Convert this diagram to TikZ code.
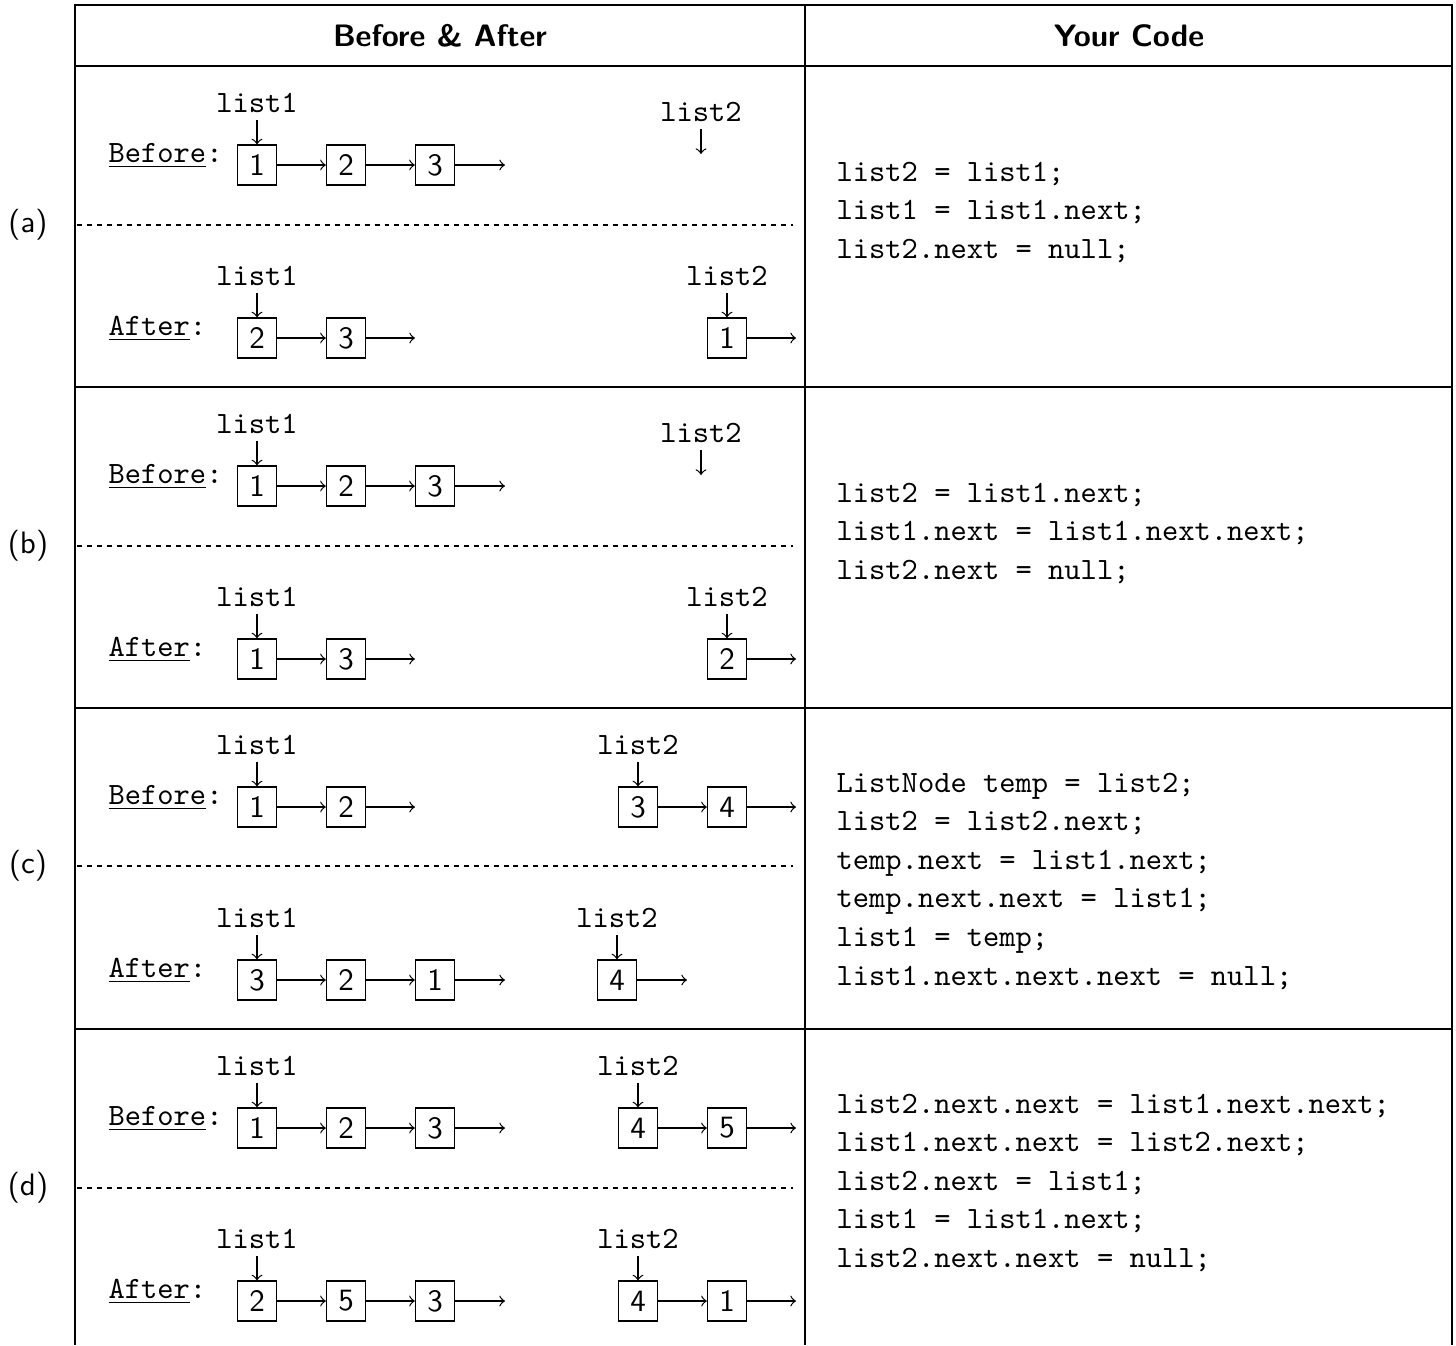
\documentclass[tikz,border=0pt]{standalone}
\usepackage{fontspec}
\begin{document}
\begin{tikzpicture}[x=0.3226pt,y=-0.3226pt,
  box/.style={draw,line width=0.4pt,minimum width=12.6pt,minimum height=12.9pt,inner sep=0pt,font=\sffamily},
  ptr/.style={font=\ttfamily,anchor=base,inner sep=0pt},
  lbl/.style={font=\ttfamily,anchor=base west,inner sep=0pt},
  code/.style={font=\ttfamily,anchor=base west,inner sep=0pt},
  lnk/.style={->,line width=0.4pt},
  rowlbl/.style={font=\sffamily,inner sep=0pt},
  head/.style={font=\sffamily\bfseries,inner sep=0pt},
  rulel/.style={line width=0.45pt},
  sep/.style={line width=0.65pt,dash pattern=on 1.6pt off 1.6pt}]
\useasboundingbox (0,0) rectangle (1456,1345);
% table frame
\coordinate (TL) at (75,5); \coordinate (TM) at (805,5); \coordinate (TR) at (1452,5);
\coordinate (BL) at (75,1345); \coordinate (BM) at (805,1345); \coordinate (BR) at (1452,1345);
\draw[rulel] (BL) -- (TL) -- (TR) -- (BR);
\draw[rulel] (TM) -- (BM);
\foreach \yy in {66,387,708,1029}{\draw[rulel] (75,\yy) -- (1452,\yy);}
\foreach \yy in {225,546,866,1188}{\draw[sep] (77,\yy) -- (793,\yy);}
\node[head] (h1) at (440,36) {Before \& After};
\node[head] (h2) at (1129,36) {Your Code};
\node[rowlbl] (ra) at (28,225) {(a)};
\node[rowlbl] (rb) at (28,546) {(b)};
\node[rowlbl] (rc) at (28,866) {(c)};
\node[rowlbl] (rd) at (28,1188) {(d)};

% ---------- row (a)
\begin{scope}[shift={(0,66)}]
\node[lbl] (aBl) at (108,96) {\underline{Before}:};
\node[ptr] (aBp1) at (257,46) {list1};
\node[box] (aB1) at (257,99) {1};
\node[box] (aB2) at (346,99) {2};
\node[box] (aB3) at (435,99) {3};
\coordinate (aBe) at (505,99);
\draw[lnk] ([yshift=-2.6pt]aBp1.base) -- (aB1.north);
\draw[lnk] (aB1) -- (aB2); \draw[lnk] (aB2) -- (aB3); \draw[lnk] (aB3) -- (aBe);
\node[ptr] (aBp2) at (701,55) {list2};
\coordinate (aBq) at (701,88);
\draw[lnk] ([yshift=-2.6pt]aBp2.base) -- (aBq);
\node[lbl] (aAl) at (108,269) {\underline{After}:};
\node[ptr] (aAp1) at (257,219) {list1};
\node[box] (aA1) at (257,272) {2};
\node[box] (aA2) at (346,272) {3};
\coordinate (aAe) at (415,272);
\draw[lnk] ([yshift=-2.6pt]aAp1.base) -- (aA1.north);
\draw[lnk] (aA1) -- (aA2); \draw[lnk] (aA2) -- (aAe);
\node[ptr] (aAp2) at (727,219) {list2};
\node[box] (aA3) at (727,272) {1};
\coordinate (aAf) at (796,272);
\draw[lnk] ([yshift=-2.6pt]aAp2.base) -- (aA3.north);
\draw[lnk] (aA3) -- (aAf);
\node[code] (ac1) at (836,115) {list2 = list1;};
\node[code] (ac2) at (836,153.6) {list1 = list1.next;};
\node[code] (ac3) at (836,192.2) {list2.next = null;};
\end{scope}

% ---------- row (b)
\begin{scope}[shift={(0,387)}]
\node[lbl] (bBl) at (108,96) {\underline{Before}:};
\node[ptr] (bBp1) at (257,46) {list1};
\node[box] (bB1) at (257,99) {1};
\node[box] (bB2) at (346,99) {2};
\node[box] (bB3) at (435,99) {3};
\coordinate (bBe) at (505,99);
\draw[lnk] ([yshift=-2.6pt]bBp1.base) -- (bB1.north);
\draw[lnk] (bB1) -- (bB2); \draw[lnk] (bB2) -- (bB3); \draw[lnk] (bB3) -- (bBe);
\node[ptr] (bBp2) at (701,55) {list2};
\coordinate (bBq) at (701,88);
\draw[lnk] ([yshift=-2.6pt]bBp2.base) -- (bBq);
\node[lbl] (bAl) at (108,269) {\underline{After}:};
\node[ptr] (bAp1) at (257,219) {list1};
\node[box] (bA1) at (257,272) {1};
\node[box] (bA2) at (346,272) {3};
\coordinate (bAe) at (415,272);
\draw[lnk] ([yshift=-2.6pt]bAp1.base) -- (bA1.north);
\draw[lnk] (bA1) -- (bA2); \draw[lnk] (bA2) -- (bAe);
\node[ptr] (bAp2) at (727,219) {list2};
\node[box] (bA3) at (727,272) {2};
\coordinate (bAf) at (796,272);
\draw[lnk] ([yshift=-2.6pt]bAp2.base) -- (bA3.north);
\draw[lnk] (bA3) -- (bAf);
\node[code] (bc1) at (836,115) {list2 = list1.next;};
\node[code] (bc2) at (836,153.6) {list1.next = list1.next.next;};
\node[code] (bc3) at (836,192.2) {list2.next = null;};
\end{scope}

% ---------- row (c)
\begin{scope}[shift={(0,708)}]
\node[lbl] (cBl) at (108,96) {\underline{Before}:};
\node[ptr] (cBp1) at (257,46) {list1};
\node[box] (cB1) at (257,99) {1};
\node[box] (cB2) at (346,99) {2};
\coordinate (cBe) at (415,99);
\draw[lnk] ([yshift=-2.6pt]cBp1.base) -- (cB1.north);
\draw[lnk] (cB1) -- (cB2); \draw[lnk] (cB2) -- (cBe);
\node[ptr] (cBp2) at (638,46) {list2};
\node[box] (cB3) at (638,99) {3};
\node[box] (cB4) at (727,99) {4};
\coordinate (cBf) at (796,99);
\draw[lnk] ([yshift=-2.6pt]cBp2.base) -- (cB3.north);
\draw[lnk] (cB3) -- (cB4); \draw[lnk] (cB4) -- (cBf);
\node[lbl] (cAl) at (108,269) {\underline{After}:};
\node[ptr] (cAp1) at (257,219) {list1};
\node[box] (cA1) at (257,272) {3};
\node[box] (cA2) at (346,272) {2};
\node[box] (cA3) at (435,272) {1};
\coordinate (cAe) at (505,272);
\draw[lnk] ([yshift=-2.6pt]cAp1.base) -- (cA1.north);
\draw[lnk] (cA1) -- (cA2); \draw[lnk] (cA2) -- (cA3); \draw[lnk] (cA3) -- (cAe);
\node[ptr] (cAp2) at (617,219) {list2};
\node[box] (cA4) at (617,272) {4};
\coordinate (cAf) at (687,272);
\draw[lnk] ([yshift=-2.6pt]cAp2.base) -- (cA4.north);
\draw[lnk] (cA4) -- (cAf);
\node[code] (cc1) at (836,84) {ListNode temp = list2;};
\node[code] (cc2) at (836,122.6) {list2 = list2.next;};
\node[code] (cc3) at (836,161.2) {temp.next = list1.next;};
\node[code] (cc4) at (836,199.8) {temp.next.next = list1;};
\node[code] (cc5) at (836,238.4) {list1 = temp;};
\node[code] (cc6) at (836,277) {list1.next.next.next = null;};
\end{scope}

% ---------- row (d)
\begin{scope}[shift={(0,1029)}]
\node[lbl] (dBl) at (108,96) {\underline{Before}:};
\node[ptr] (dBp1) at (257,46) {list1};
\node[box] (dB1) at (257,99) {1};
\node[box] (dB2) at (346,99) {2};
\node[box] (dB3) at (435,99) {3};
\coordinate (dBe) at (505,99);
\draw[lnk] ([yshift=-2.6pt]dBp1.base) -- (dB1.north);
\draw[lnk] (dB1) -- (dB2); \draw[lnk] (dB2) -- (dB3); \draw[lnk] (dB3) -- (dBe);
\node[ptr] (dBp2) at (638,46) {list2};
\node[box] (dB4) at (638,99) {4};
\node[box] (dB5) at (727,99) {5};
\coordinate (dBf) at (796,99);
\draw[lnk] ([yshift=-2.6pt]dBp2.base) -- (dB4.north);
\draw[lnk] (dB4) -- (dB5); \draw[lnk] (dB5) -- (dBf);
\node[lbl] (dAl) at (108,269) {\underline{After}:};
\node[ptr] (dAp1) at (257,219) {list1};
\node[box] (dA1) at (257,272) {2};
\node[box] (dA2) at (346,272) {5};
\node[box] (dA3) at (435,272) {3};
\coordinate (dAe) at (505,272);
\draw[lnk] ([yshift=-2.6pt]dAp1.base) -- (dA1.north);
\draw[lnk] (dA1) -- (dA2); \draw[lnk] (dA2) -- (dA3); \draw[lnk] (dA3) -- (dAe);
\node[ptr] (dAp2) at (638,219) {list2};
\node[box] (dA4) at (638,272) {4};
\node[box] (dA5) at (727,272) {1};
\coordinate (dAf) at (796,272);
\draw[lnk] ([yshift=-2.6pt]dAp2.base) -- (dA4.north);
\draw[lnk] (dA4) -- (dA5); \draw[lnk] (dA5) -- (dAf);
\node[code] (dc1) at (836,84) {list2.next.next = list1.next.next;};
\node[code] (dc2) at (836,122.6) {list1.next.next = list2.next;};
\node[code] (dc3) at (836,161.2) {list2.next = list1;};
\node[code] (dc4) at (836,199.8) {list1 = list1.next;};
\node[code] (dc5) at (836,238.4) {list2.next.next = null;};
\end{scope}
\end{tikzpicture}
\end{document}
